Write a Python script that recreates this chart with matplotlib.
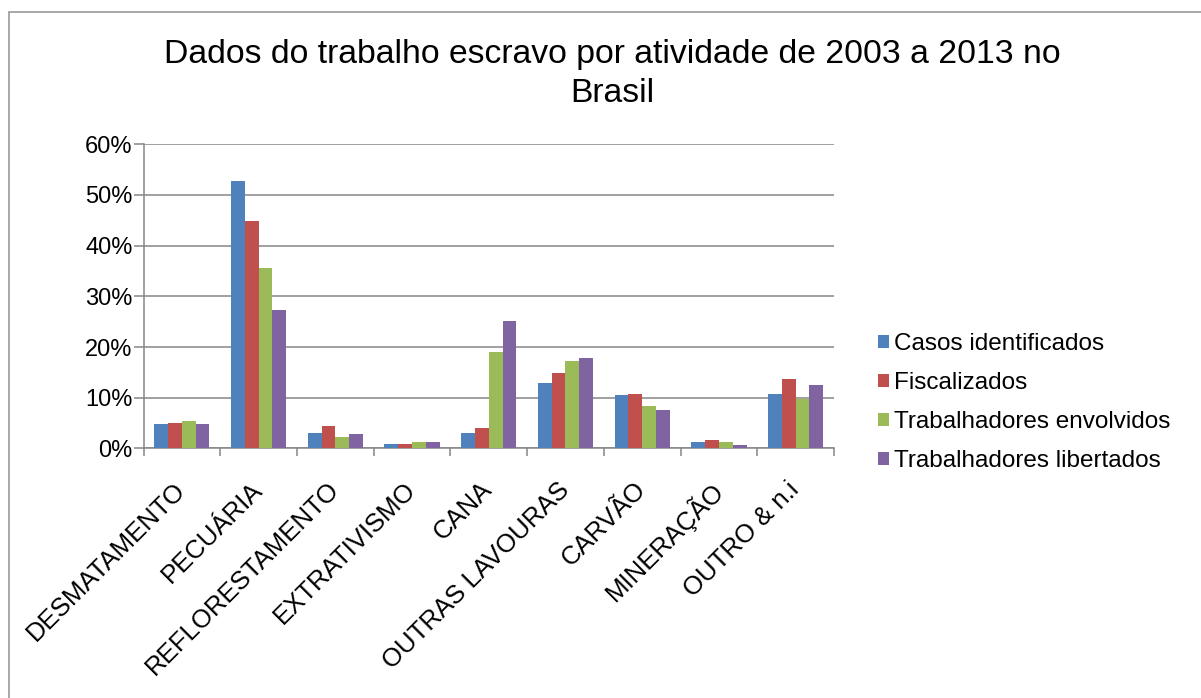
import numpy as np
import matplotlib.pyplot as plt
from matplotlib.patches import Rectangle
from matplotlib.ticker import PercentFormatter

plt.rcParams['font.family'] = ['Liberation Sans', 'DejaVu Sans']

categorias = ['DESMATAMENTO', 'PECUÁRIA', 'REFLORESTAMENTO', 'EXTRATIVISMO', 'CANA',
              'OUTRAS LAVOURAS', 'CARVÃO', 'MINERAÇÃO', 'OUTRO & n.i']
casos = [4.8, 52.8, 3.0, 0.95, 3.1, 12.9, 10.5, 1.3, 10.8]
fiscalizados = [5.1, 44.9, 4.5, 0.95, 4.0, 14.9, 10.8, 1.6, 13.8]
envolvidos = [5.4, 35.6, 2.2, 1.2, 19.1, 17.3, 8.4, 1.3, 9.7]
libertados = [4.8, 27.3, 2.8, 1.2, 25.1, 17.9, 7.6, 0.7, 12.6]

series = ['Casos identificados', 'Fiscalizados', 'Trabalhadores envolvidos', 'Trabalhadores libertados']
valores = [casos, fiscalizados, envolvidos, libertados]
cores = ['#4F81BD', '#C0504D', '#9BBB59', '#8064A2']

fig = plt.figure(figsize=(12.01, 6.98), dpi=100)
ax = fig.add_axes([0.1195, 0.3575, 0.5749, 0.4358])

# moldura do gráfico (só aparecem o lado esquerdo e o de cima)
fig.patches.append(Rectangle((9 / 1201, -0.1), 1.2, 1 - 12 / 698 + 0.1, transform=fig.transFigure,
                             fill=False, edgecolor='#9a9a9a', linewidth=1.2))

x = np.arange(len(categorias))
w = 0.18
for i, (nome, v, c) in enumerate(zip(series, valores, cores)):
    ax.bar(x + (i - 1.5) * w, np.array(v) / 100, w, color=c, label=nome, zorder=3)

cinza = '#868686'
ax.set_xlim(-0.5, len(categorias) - 0.5)
ax.set_ylim(0, 0.6)
ax.set_yticks(np.arange(0, 0.61, 0.1))
ax.yaxis.set_major_formatter(PercentFormatter(1.0, decimals=0))
ax.grid(axis='y', color=cinza, linewidth=1.1, zorder=0)
for s in ['top', 'right']:
    ax.spines[s].set_visible(False)
for s in ['left', 'bottom']:
    ax.spines[s].set_color(cinza)
    ax.spines[s].set_linewidth(1.1)

ax.set_xticks(np.arange(-0.5, len(categorias)), minor=False)
ax.set_xticklabels([])
ax.set_xticks(x, minor=True)
ax.set_xticklabels(categorias, minor=True, rotation=45, ha='right', va='center',
                   rotation_mode='anchor', fontsize=18.5)
ax.tick_params(axis='x', which='major', length=6, color=cinza, width=1.1)
ax.tick_params(axis='x', which='minor', length=0, pad=27)
ax.tick_params(axis='y', length=7, color=cinza, width=1.1, labelsize=17, pad=1)

fig.text(0.5096, 0.894, 'Dados do trabalho escravo por atividade de 2003 a 2013 no\nBrasil',
         ha='center', va='center', fontsize=24.3, linespacing=1.34)

fig.legend(loc='center left', bbox_to_anchor=(0.731, 0.423), frameon=False, fontsize=17.5,
           handlelength=0.45, handleheight=0.45, handletextpad=0.2, labelspacing=0.7,
           borderpad=0, borderaxespad=0)

plt.savefig('out.png', dpi=100)
